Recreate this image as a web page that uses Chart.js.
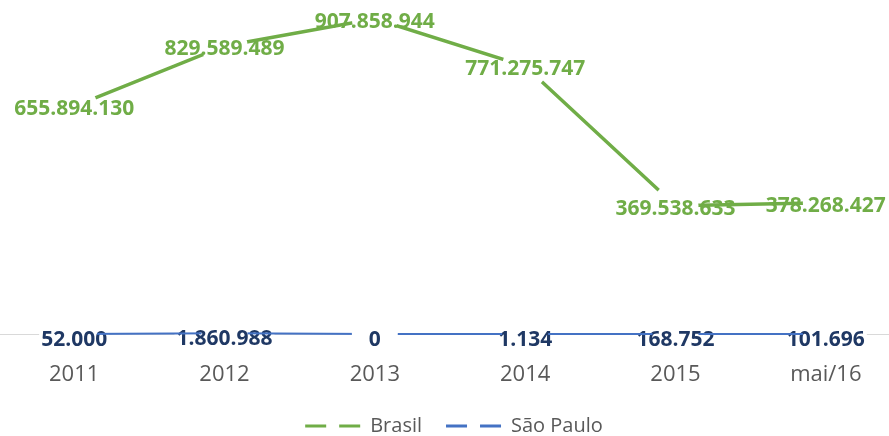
<!DOCTYPE html>
<html><head><meta charset="utf-8">
<script src="https://cdn.jsdelivr.net/npm/chart.js@4.4.1/dist/chart.umd.min.js"></script>
<style>html,body{margin:0;padding:0;background:#fff;overflow:hidden;width:889px;height:436px}#wrap{width:902px;height:446px;position:relative;margin-left:-1px}</style>
</head><body><div id="wrap"><canvas id="c"></canvas></div>
<script>
const categories = ['2011', '2012', '2013', '2014', '2015', 'mai/16'];
const brasil = [655894130, 829589489, 907858944, 771275747, 369538633, 378268427];
const saoPaulo = [52000, 1860988, 0, 1134, 168752, 101696];
const seriesNames = ['Brasil', 'São Paulo'];

const FONT = '"Open Sans", "Noto Sans", sans-serif';
function fmt(v) { return String(v).replace(/\B(?=(\d{3})+(?!\d))/g, '.'); }

const GAP = 23;
const gapPlugin = {
  id: 'gapAroundPoints',
  beforeDatasetDraw(chart, args) {
    const ctx = chart.ctx;
    ctx.save();
    ctx.beginPath();
    ctx.rect(-50, -50, chart.width + 100, chart.height + 100);
    args.meta.data.forEach(p => { ctx.moveTo(p.x + GAP, p.y); ctx.arc(p.x, p.y, GAP, 0, Math.PI * 2); });
    ctx.clip('evenodd');
  },
  afterDatasetDraw(chart) { chart.ctx.restore(); }
};
const labelPlugin = {
  id: 'valueLabels',
  beforeDatasetsDraw(chart) {
    const ctx = chart.ctx;
    ctx.save();
    chart.data.datasets.forEach((ds, i) => {
      const meta = chart.getDatasetMeta(i);
      const lo = ds.labelOpts;
      ctx.font = 'bold 21px ' + FONT;
      ctx.textAlign = 'center';
      ctx.textBaseline = 'middle';
      meta.data.forEach((p, j) => {
        const t = fmt(ds.data[j]);
        const w = ctx.measureText(t).width;
        if (lo.mask) {
          ctx.fillStyle = '#fff';
          const bw = Math.max(w + 4, 2 * GAP);
          ctx.fillRect(p.x - bw / 2, p.y - 4, bw, 8);
        }
        ctx.fillStyle = lo.color;
        ctx.fillText(t, p.x, p.y + lo.dy);
      });
    });
    ctx.restore();
  }
};
const legendShift = {
  id: 'legendShift',
  afterLayout(chart) { if (chart.legend) { chart.legend.left += 4; chart.legend.right += 4; } }
};

new Chart(document.getElementById('c'), {
  type: 'line',
  data: {
    labels: categories,
    datasets: [
      { label: seriesNames[0], data: brasil, borderColor: '#70AD47', backgroundColor: '#70AD47', borderWidth: 3.5, pointRadius: 0, tension: 0, clip: false,
        labelOpts: { color: '#70AD47', dy: 3, mask: false } },
      { label: seriesNames[1], data: saoPaulo, borderColor: '#4472C4', backgroundColor: '#4472C4', borderWidth: 2, pointRadius: 0, tension: 0, clip: false,
        labelOpts: { color: '#1F3864', dy: 6, mask: true } }
    ]
  },
  options: {
    responsive: true, maintainAspectRatio: false, animation: false,
    layout: { padding: 0 },
    scales: {
      x: {
        offset: true,
        grid: { display: false, drawTicks: false },
        border: { display: true, color: '#D9D9D9', width: 1 },
        ticks: { color: '#595959', font: { family: FONT, size: 22 }, padding: 28, maxRotation: 0, autoSkip: false },
        afterFit(s) { s.height = 58; }
      },
      y: { display: false, min: 0, max: 962000000 }
    },
    plugins: {
      legend: {
        position: 'bottom',
        labels: {
          usePointStyle: true, pointStyle: 'line', pointStyleWidth: 55, boxHeight: 20,
          color: '#595959', font: { family: FONT, size: 20 }, padding: 24,
          generateLabels(chart) {
            const items = Chart.defaults.plugins.legend.labels.generateLabels(chart);
            items.forEach(it => { it.lineDash = [21, 13]; it.lineWidth = 3; it.pointStyle = 'line'; });
            return items;
          }
        }
      },
      tooltip: { enabled: false }
    }
  },
  plugins: [gapPlugin, labelPlugin, legendShift]
});
</script>
</body></html>
